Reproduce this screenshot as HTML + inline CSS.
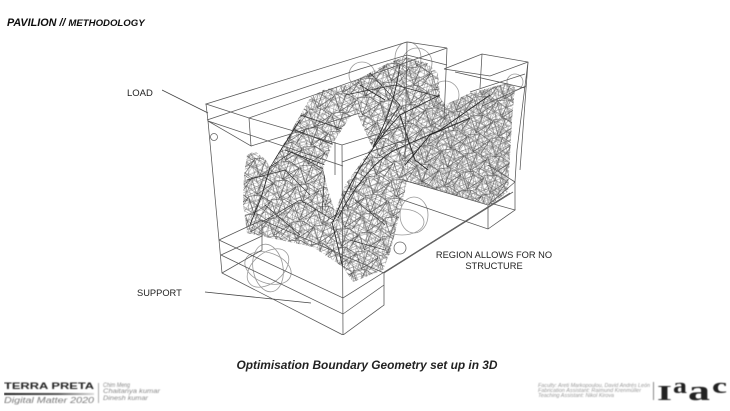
<!DOCTYPE html>
<html><head><meta charset="utf-8"><style>
html,body{margin:0;padding:0;background:#fff}
body{width:730px;height:411px;overflow:hidden}
svg{display:block}
text{font-family:"Liberation Sans",sans-serif}
.s{font-family:"Liberation Serif",serif;font-weight:bold;fill:#222}
</style></head><body>
<svg width="730" height="411" viewBox="0 0 730 411" xmlns="http://www.w3.org/2000/svg">
<defs>
<filter id="soft" x="0" y="0" width="100%" height="100%"><feGaussianBlur stdDeviation="0.3"/></filter>
<filter id="soft2" x="0" y="0" width="100%" height="100%"><feGaussianBlur stdDeviation="0.4"/></filter>
<pattern id="m1" width="13" height="11" patternUnits="userSpaceOnUse" patternTransform="rotate(-18)">
<path d="M0 0H13M0 5.5H13M0 0L6.5 5.5L13 0M0 11L6.5 5.5L13 11M6.5 0V11" fill="none" stroke="#777" stroke-width=".45"/></pattern>
<pattern id="m2" width="10.3" height="9.1" patternUnits="userSpaceOnUse" patternTransform="rotate(37)">
<path d="M0 0H10.3M0 0L5.15 9.1L10.3 0M0 9.1H10.3" fill="none" stroke="#666" stroke-width=".45"/></pattern>
<pattern id="m3" width="7.1" height="6.3" patternUnits="userSpaceOnUse" patternTransform="rotate(18)">
<path d="M0 0H7.1M0 6.3L3.55 0L7.1 6.3" fill="none" stroke="#888" stroke-width=".45"/></pattern>
<pattern id="m4" width="16.7" height="13.9" patternUnits="userSpaceOnUse" patternTransform="rotate(71)">
<path d="M0 0L16.7 13.9M16.7 0L0 13.9M0 7H16.7" fill="none" stroke="#777" stroke-width=".45"/></pattern>
<pattern id="m6" width="23" height="19" patternUnits="userSpaceOnUse" patternTransform="rotate(9)">
<path d="M0 3L12 0L23 5M0 3L8 19M12 0L8 19L23 5M23 5L16 19" fill="none" stroke="#444" stroke-width=".55"/></pattern>
<clipPath id="body"><path clip-rule="evenodd" d="M247 155L255 151L266 160L270 167L290 133L310 98L323 90L347 85L390 62L405 57L427 63L438 73L440 97L445 105L470 93L500 85L507 83L515 87L512 120L508 192L490 205L408 182L413 175L407 182L400 213L390 253L383 270L353 282L343 267L313 247L247 233L243 203L244 175Z
M350 117L357 113L372 147L345 185L335 212L327 187L323 168L333 143Z"/></clipPath>
<clipPath id="wing"><path d="M408 182L430 100L500 85L515 87L508 192L490 205Z"/></clipPath>
<linearGradient id="bar"><stop offset="0" stop-color="#222"/><stop offset=".6" stop-color="#555"/><stop offset="1" stop-color="#ddd"/></linearGradient>
</defs>
<rect width="730" height="411" fill="#fff"/>

<g filter="url(#soft)">
<!-- mesh -->
<g clip-path="url(#body)">
<rect x="230" y="40" width="300" height="250" fill="#fff"/>
<rect x="230" y="40" width="300" height="250" fill="url(#m1)"/>
<rect x="230" y="40" width="300" height="250" fill="url(#m2)"/>
<rect x="230" y="40" width="300" height="250" fill="url(#m4)"/>
<rect x="230" y="40" width="300" height="250" fill="url(#m6)"/>
<rect x="230" y="40" width="300" height="250" fill="url(#m3)" clip-path="url(#wing)"/>
<g fill="none" stroke="#333" stroke-width=".7">
<path d="M270 167L292 152L325 170L322 213M262 222L300 200L333 220"/>
<path d="M300 115L345 130M295 130L335 145M285 150L325 165"/>
<path d="M345 95L395 85L440 97M370 73L400 105L373 147"/>
<path d="M247 180L285 170L310 195M265 205L300 235M355 200L385 225M350 240L385 250"/>
</g>
<g fill="none" stroke="#222" stroke-width=".85">
<path d="M333 222C345 190 368 150 400 115L440 95"/>
<path d="M338 218C352 190 375 160 395 150L440 130L490 95"/>
<path d="M373 147C385 125 395 100 400 65M400 115L415 160L428 170"/>
<path d="M343 268L332 222M405 165L430 135L470 118M385 100L360 85"/>
<path d="M250 225L262 195L270 167L300 120"/>
</g>
</g>

<!-- circles -->
<g fill="none" stroke="#999" stroke-width=".8">
<circle cx="362" cy="75" r="13"/>
<circle cx="417" cy="63" r="15"/>
<ellipse cx="408" cy="58" rx="13" ry="16"/>
<circle cx="445" cy="95" r="14"/>
<circle cx="515" cy="82" r="8"/>
<ellipse cx="268" cy="268" rx="24" ry="15" transform="rotate(20 268 268)"/>
<ellipse cx="268" cy="268" rx="24" ry="15" transform="rotate(80 268 268)"/>
<ellipse cx="268" cy="268" rx="24" ry="15" transform="rotate(140 268 268)"/>
<ellipse cx="414" cy="215" rx="14" ry="18"/>
<ellipse cx="402" cy="222" rx="22" ry="13"/>
</g>
<circle cx="214" cy="137" r="3.5" fill="none" stroke="#666" stroke-width=".8"/>
<circle cx="400" cy="248" r="6" fill="none" stroke="#666" stroke-width=".8"/>

<!-- boxes -->
<g fill="none" stroke="#555" stroke-width=".75">
<path d="M206 104L407 42L447 48L249 118Z"/>
<path d="M207 120L360 69L407 55L447 65"/>
<path d="M208 121L343 166M206 104L208 121L219 240L222 273L343 335L384 305L384 273"/>
<path d="M249 118L251 146L208 121M251 146L360 113"/>
<path d="M249 118L342 145L407 125M342 145L343 335M335 142V175"/>
<path d="M342 162L410 138M407 42L405 160M447 48L444 120"/>
<path d="M219 240L262 220V250L222 273M262 220L384 273M221 255L343 314L384 285M219 240L343 298L510 193"/>
<path d="M221 255L262 236"/>
<path d="M444 69L482 54L528 62L520 170M482 54L480 88M444 69L490 76L528 62M455 72L525 88M470 92L525 74M482 106L526 86"/>
<path d="M528 62L517 150L515 182L488 205L403 180M515 182L488 165"/>
<path d="M403 200L488 229L515 210L490 203M488 229V205M515 182V210"/>
<path d="M384 273L513 192"/>
</g>

<!-- leaders -->
<g fill="none" stroke="#444" stroke-width=".8">
<path d="M162 90L208 113M205 292L311 303"/>
</g>
</g>

<g filter="url(#soft)">
<!-- labels -->
<text x="7" y="26" font-size="10.8" font-weight="bold" font-style="italic" fill="#111">PAVILION // <tspan font-size="9.6">METHODOLOGY</tspan></text>
<text x="127" y="96" font-size="9.5" fill="#222">LOAD</text>
<text x="137" y="296" font-size="9.3" fill="#222">SUPPORT</text>
<text x="494" y="258" font-size="9.3" fill="#222" text-anchor="middle">REGION ALLOWS FOR NO</text>
<text x="494" y="269" font-size="9.3" fill="#222" text-anchor="middle">STRUCTURE</text>
<text x="367" y="369" font-size="11.9" font-weight="bold" font-style="italic" fill="#222" text-anchor="middle">Optimisation Boundary Geometry set up in 3D</text>
</g>

<g filter="url(#soft2)">
<!-- footer left -->
<text x="4" y="389" font-size="9" font-weight="bold" fill="#222" textLength="90" lengthAdjust="spacingAndGlyphs">TERRA PRETA</text>
<rect x="4" y="393" width="90" height="2" fill="url(#bar)"/>
<text x="4" y="403" font-size="8.5" font-style="italic" fill="#777" textLength="90" lengthAdjust="spacingAndGlyphs">Digital Matter 2020</text>
<rect x="98" y="383" width="1" height="20" fill="#aaa"/>
<g font-size="6.5" font-style="italic" fill="#888">
<text x="103" y="387" textLength="27" lengthAdjust="spacingAndGlyphs">Chim Meng</text>
<text x="103" y="393" textLength="57" lengthAdjust="spacingAndGlyphs">Chaitanya kumar</text>
<text x="103" y="400" textLength="45" lengthAdjust="spacingAndGlyphs">Dinesh kumar</text>
</g>

<!-- footer right -->
<g font-size="5.4" font-style="italic" fill="#999">
<text x="538" y="387" textLength="112" lengthAdjust="spacing">Faculty: Areti Markopoulou, David Andrés León</text>
<text x="538" y="392" textLength="103" lengthAdjust="spacing">Fabrication Assistant: Raimund Krenmüller</text>
<text x="538" y="397" textLength="76" lengthAdjust="spacing">Teaching Assistant: Nikol Kirova</text>
</g>
<rect x="653" y="382" width="1" height="18" fill="#888"/>
<text class="s" x="657" y="400" font-size="21" textLength="15" lengthAdjust="spacingAndGlyphs">I</text>
<text class="s" x="673" y="393" font-size="22" textLength="14" lengthAdjust="spacingAndGlyphs">a</text>
<text class="s" x="688" y="400" font-size="28" textLength="22" lengthAdjust="spacingAndGlyphs">a</text>
<text class="s" x="712" y="393" font-size="22" textLength="15" lengthAdjust="spacingAndGlyphs">c</text>
</g>
</svg>
</body></html>
